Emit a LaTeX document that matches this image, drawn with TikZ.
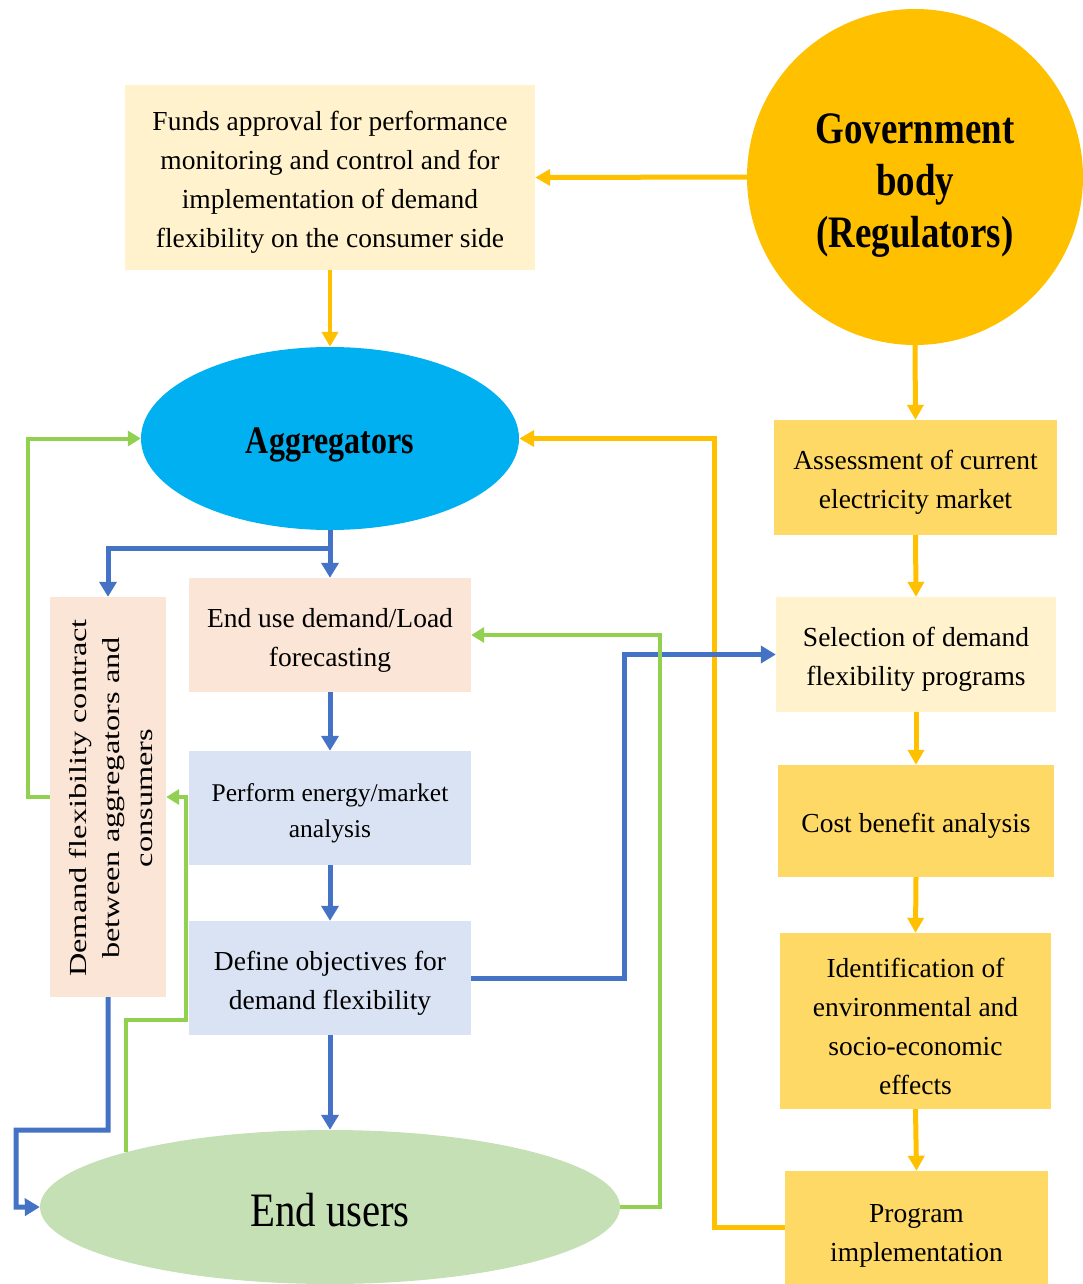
\documentclass[tikz,border=0pt]{standalone}
\usepackage{fontspec}
\setmainfont{Liberation Serif}
\newfontfamily\narrowbold[FakeStretch=0.82]{Liberation Serif}
\newfontfamily\narrowreg[FakeStretch=0.85]{Liberation Serif}
\newfontfamily\widereg[FakeStretch=1.32]{Liberation Serif}
\usetikzlibrary{arrows.meta,shapes.geometric}

\definecolor{govorange}{HTML}{FFC000}
\definecolor{paleyellow}{HTML}{FFF2CC}
\definecolor{goldbox}{HTML}{FFD966}
\definecolor{aggblue}{HTML}{00B0F0}
\definecolor{peach}{HTML}{FBE5D6}
\definecolor{paleblue}{HTML}{DAE3F3}
\definecolor{usergreen}{HTML}{C5E0B4}
\definecolor{flowblue}{HTML}{4472C4}
\definecolor{flowgreen}{HTML}{92D050}

\begin{document}
\begin{tikzpicture}[x=1pt,y=-1pt,
  box/.style={rectangle, inner sep=0pt},
  txt/.style={align=center, inner sep=0pt, yshift=-5pt,
    font=\fontsize{27.5}{39}\selectfont},
  orangeflow/.style={draw=govorange, line width=5pt,
    -{Triangle[length=15pt,width=16pt]}},
  blueflow/.style={draw=flowblue, line width=5pt,
    -{Triangle[length=15pt,width=17pt]}},
  greenflow/.style={draw=flowgreen, line width=4pt,
    -{Triangle[length=13pt,width=15pt]}}]

\useasboundingbox (0,0) rectangle (1082,1284);

% ---- regulator side ----
\node[circle, fill=govorange, minimum size=336pt, inner sep=0pt,
  label={[txt, yshift=-4pt, font=\fontsize{45}{52}\selectfont\narrowbold\bfseries]center:{Government\\body\\(Regulators)}}]
  (gov) at (915,177) {};

\node[box, fill=paleyellow, minimum width=410pt, minimum height=185pt,
  label={[txt]center:{Funds approval for performance\\monitoring and control and for\\implementation of demand\\flexibility on the consumer side}}]
  (funds) at (330,177.5) {};

\node[box, fill=goldbox, minimum width=283pt, minimum height=115pt,
  label={[txt]center:{Assessment of current\\electricity market}}]
  (assess) at (915.5,477.5) {};
\node[box, fill=paleyellow, minimum width=280pt, minimum height=115pt,
  label={[txt]center:{Selection of demand\\flexibility programs}}]
  (select) at (916,654.5) {};
\node[box, fill=goldbox, minimum width=276pt, minimum height=112pt,
  label={[txt]center:{Cost benefit analysis}}]
  (cost) at (916,821) {};
\node[box, fill=goldbox, minimum width=271pt, minimum height=176pt,
  label={[txt]center:{Identification of\\environmental and\\socio-economic\\effects}}]
  (ident) at (915.5,1021) {};
\node[box, fill=goldbox, minimum width=263pt, minimum height=113pt,
  label={[txt, yshift=-3pt]center:{Program\\implementation}}]
  (program) at (916.5,1227.5) {};

% ---- aggregator side ----
\node[ellipse, fill=aggblue, minimum width=378pt, minimum height=183pt, inner sep=0pt,
  label={[txt, yshift=-1pt, font=\fontsize{39}{45}\selectfont\narrowbold\bfseries]center:{Aggregators}}]
  (agg) at (330,438.5) {};

\node[box, fill=peach, minimum width=282pt, minimum height=114pt,
  label={[txt]center:{End use demand/Load\\forecasting}}]
  (enduse) at (330,635) {};
\node[box, fill=paleblue, minimum width=282pt, minimum height=114pt,
  label={[txt, font=\fontsize{25.5}{36}\selectfont]center:{Perform energy/market\\analysis}}]
  (perform) at (330,808) {};
\node[box, fill=paleblue, minimum width=282pt, minimum height=114pt,
  label={[txt]center:{Define objectives for\\demand flexibility}}]
  (define) at (330,978) {};

\node[box, fill=peach, minimum width=116pt, minimum height=400pt] (contract) at (108,797) {};
\node[rotate=90, align=center, inner sep=0pt,
  font=\fontsize{24.5}{33}\selectfont\widereg] (contracttext) at (111,798)
  {Demand flexibility contract\\between aggregators and\\consumers};

\node[ellipse, fill=usergreen, minimum width=580pt, minimum height=154pt, inner sep=0pt,
  label={[txt, yshift=2pt, font=\fontsize{48}{54}\selectfont\narrowreg]center:{End users}}]
  (users) at (330,1207) {};

% ---- regulator flows ----
\draw[orangeflow] (gov.west) -- (funds.east);
\draw[orangeflow, line width=4pt] (funds.south) -- (agg.north);
\draw[orangeflow] (gov.south) -- (assess.north);
\draw[orangeflow] (assess.south) -- (select.north);
\draw[orangeflow] (select.south) -- (cost.north);
\draw[orangeflow] (cost.south) -- (ident.north);
\draw[orangeflow] (ident.south) -- (program.north);
\draw[orangeflow] (program.west) -- ++(-70,0) |- (agg.east);

% ---- aggregator flows ----
\draw[blueflow] (agg.south) -- (enduse.north);
\draw[blueflow] (agg.south) -- ++(0,18) -| (contract.north);
\draw[blueflow] (enduse.south) -- (perform.north);
\draw[blueflow] (perform.south) -- (define.north);
\draw[blueflow] (define.south) -- (users.north);
\draw[blueflow] (define.east) -- ++(153,0) |- (select.west);
\draw[blueflow] (contract.south) -- ++(0,133) -| ++(-92,77) -- (users.west);

% ---- feedback flows ----
\draw[greenflow] (contract.west) -- ++(-22,0) |- (agg.west);
\draw[greenflow] (users.165) |- ++(60,-132) |- (contract.east);
\draw[greenflow] (users.east) -- ++(40,0) |- (enduse.east);

\end{tikzpicture}
\end{document}
